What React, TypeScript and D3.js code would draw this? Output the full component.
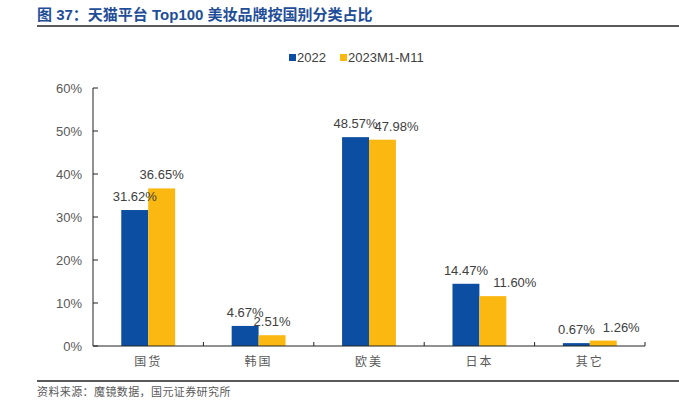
import * as d3 from 'd3';
import { useEffect, useRef } from 'react';

const categories = ['国货', '韩国', '欧美', '日本', '其它'];
const series2022 = [31.62, 4.67, 48.57, 14.47, 0.67];
const series2023 = [36.65, 2.51, 47.98, 11.60, 1.26];
const seriesNames = ['2022', '2023M1-M11'];
const yTicks = [0, 10, 20, 30, 40, 50, 60];

const colors = ['#0c4ea2', '#fbb811'];
// horizontal nudges of the 2023 labels, as placed in the original
const label2023Dx = [0, 0, 14, 22, 18];

const App = () => {
    const ref = useRef<SVGSVGElement>(null);

    useEffect(() => {
        drawChart();
    }, []);

    const drawChart = () => {
        const width = 679;
        const left = 93, right = 645, top = 88, bottom = 346;
        const svg: any = d3.select(ref.current);
        svg.selectAll('*').remove();

        const latin = 'Liberation Sans, Arial, sans-serif';
        const cjk = 'Liberation Sans, Noto Sans CJK SC, sans-serif';

        // title
        svg.append('text')
            .attr('x', 37).attr('y', 20)
            .text('图 37：天猫平台 Top100 美妆品牌按国别分类占比')
            .style('font-family', cjk)
            .style('font-weight', 700)
            .style('font-size', '15px')
            .style('fill', '#1f4e99');
        svg.append('line')
            .attr('x1', 37).attr('x2', width).attr('y1', 26).attr('y2', 26)
            .attr('stroke', '#222').attr('stroke-width', 1.5);

        // footer
        svg.append('line')
            .attr('x1', 37).attr('x2', width).attr('y1', 381).attr('y2', 381)
            .attr('stroke', '#222').attr('stroke-width', 1.5);
        svg.append('text')
            .attr('x', 37).attr('y', 396)
            .text('资料来源：魔镜数据，国元证券研究所')
            .style('font-family', cjk)
            .style('font-size', '11px')
            .style('letter-spacing', '0.4px')
            .style('fill', '#595959');

        const x: any = d3.scaleBand().domain(categories).range([left, right]);
        const xi: any = d3.scaleBand().domain(seriesNames).range([0, x.bandwidth()]).paddingInner(0).paddingOuter(1.05);
        const y: any = d3.scaleLinear().domain([0, 60]).range([bottom, top]);

        // y axis
        svg.append('line')
            .attr('x1', left).attr('x2', left).attr('y1', top).attr('y2', bottom)
            .attr('stroke', '#222').attr('stroke-width', 1);
        const yg = svg.selectAll('.ytick').data(yTicks).enter().append('g')
            .attr('transform', (d: any) => `translate(0,${y(d)})`);
        yg.append('line').attr('x1', left).attr('x2', left + 5)
            .attr('stroke', '#222').attr('stroke-width', 1);
        yg.append('text')
            .attr('x', left - 11).attr('dy', '0.35em')
            .text((d: any) => d + '%')
            .style('text-anchor', 'end')
            .style('font-family', latin)
            .style('font-size', '13px')
            .style('fill', '#595959');

        const grouped = categories.map((c, i) => ({ cat: c, i, vals: [series2022[i], series2023[i]] }));

        // bars
        const groups = svg.selectAll('.grp').data(grouped).enter().append('g')
            .attr('transform', (d: any) => `translate(${x(d.cat)},0)`);
        groups.selectAll('rect')
            .data((d: any) => d.vals.map((v: number, k: number) => ({ v, k })))
            .enter().append('rect')
            .attr('x', (d: any) => xi(seriesNames[d.k]))
            .attr('width', xi.bandwidth())
            .attr('y', (d: any) => y(d.v))
            .attr('height', (d: any) => bottom - y(d.v))
            .attr('fill', (d: any) => colors[d.k]);
        groups.selectAll('.lbl')
            .data((d: any) => d.vals.map((v: number, k: number) => ({ v, k, dx: k === 1 ? label2023Dx[d.i] : 0 })))
            .enter().append('text')
            .attr('x', (d: any) => xi(seriesNames[d.k]) + xi.bandwidth() / 2 + d.dx)
            .attr('y', (d: any) => y(d.v) - 9)
            .text((d: any) => d.v.toFixed(2) + '%')
            .style('text-anchor', 'middle')
            .style('font-family', latin)
            .style('font-size', '13px')
            .style('fill', '#404040');

        // x axis
        svg.append('line')
            .attr('x1', left).attr('x2', right).attr('y1', bottom).attr('y2', bottom)
            .attr('stroke', '#222').attr('stroke-width', 1);
        svg.selectAll('.xtick').data(categories).enter().append('line')
            .attr('x1', (d: any) => x(d) + x.bandwidth()).attr('x2', (d: any) => x(d) + x.bandwidth())
            .attr('y1', bottom).attr('y2', bottom - 4)
            .attr('stroke', '#222').attr('stroke-width', 1);
        svg.selectAll('.xlbl').data(categories).enter().append('text')
            .attr('x', (d: any) => x(d) + x.bandwidth() / 2)
            .attr('y', 366)
            .text((d: any) => d)
            .style('text-anchor', 'middle')
            .style('font-family', 'Noto Sans CJK SC, sans-serif')
            .style('font-size', '12px')
            .style('letter-spacing', '2px')
            .style('fill', '#595959');

        // legend
        const legendX = [289, 340];
        const lg = svg.selectAll('.leg').data(seriesNames).enter().append('g')
            .attr('transform', (_d: any, i: number) => `translate(${legendX[i]},54)`);
        lg.append('rect').attr('width', 7).attr('height', 7)
            .attr('fill', (_d: any, i: number) => colors[i]);
        lg.append('text')
            .attr('x', 8).attr('y', 8)
            .text((d: any) => d)
            .style('font-family', latin)
            .style('font-size', '13px')
            .style('fill', '#404040');
    };

    return (
        <svg ref={ref} width={679} height={414}
            style={{ position: 'absolute', left: 0, top: 0, background: '#fff' }} />
    );
};

export default App;
